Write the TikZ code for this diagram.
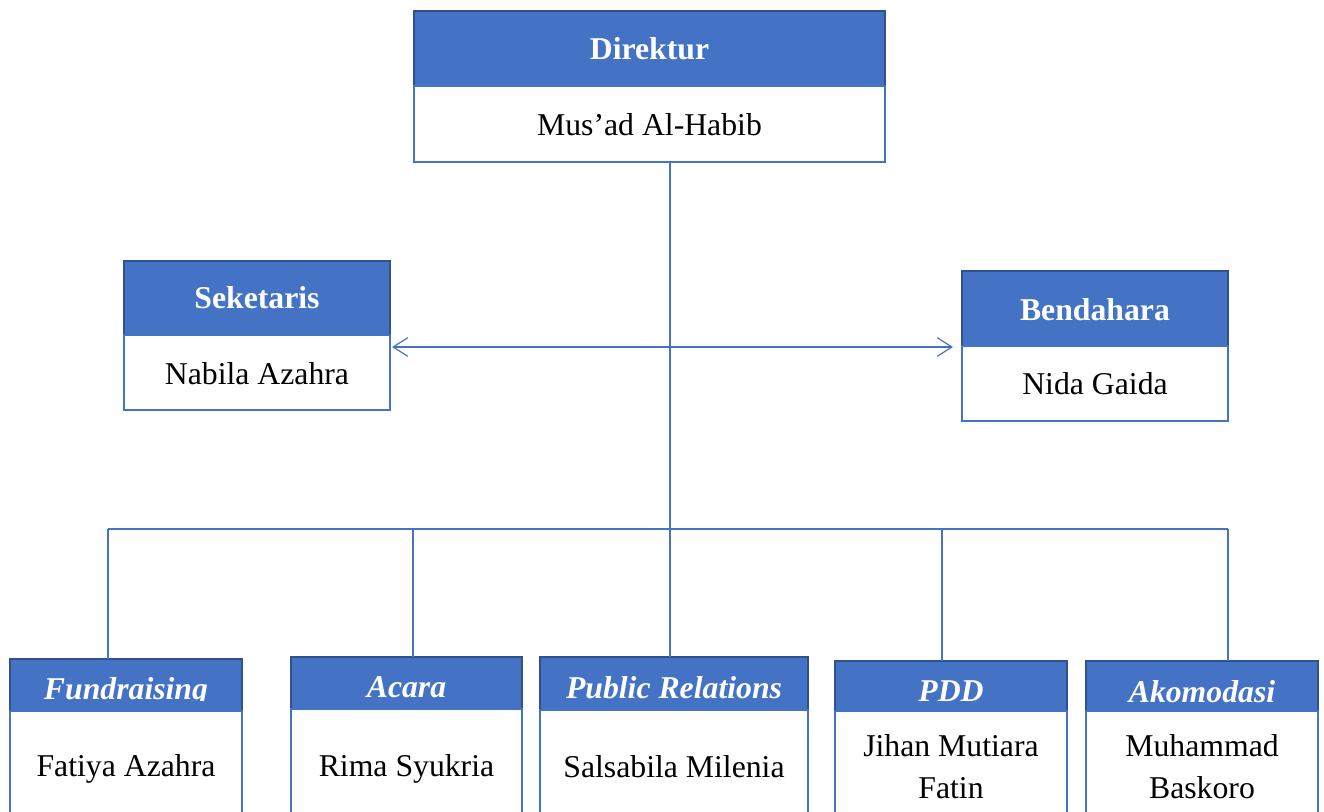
\documentclass[tikz,border=0pt]{standalone}
\usepackage{fontspec}
\setmainfont{Liberation Serif}
\usetikzlibrary{fit,calc,arrows.meta}
\definecolor{hdrblue}{HTML}{4472C4}
\definecolor{hdrline}{HTML}{2F528F}
\begin{document}
\begin{tikzpicture}[x=0.75pt,y=-0.75pt,
  hdr/.style={draw=hdrline,fill=hdrblue,line width=1.5pt,inner sep=0pt,outer sep=0pt},
  bdy/.style={draw=hdrblue,fill=white,line width=1.5pt,inner sep=0pt,outer sep=0pt},
  ttl/.style={text=white,font=\fontsize{23.8}{28}\selectfont\bfseries,anchor=base,inner sep=0pt},
  ittl/.style={text=white,font=\fontsize{23.8}{28}\selectfont\bfseries\itshape,anchor=base,inner sep=0pt},
  nm/.style={font=\fontsize{23.8}{28}\selectfont,anchor=base,inner sep=0pt},
  conn/.style={draw=hdrblue,line width=1.1pt}]
\useasboundingbox (0,0) rectangle (1324,811);

% coordinates for the bus
\coordinate (bus) at (670,529);
\coordinate (cF) at (108,529);
\coordinate (cA) at (413,529);
\coordinate (cP) at (670,529);
\coordinate (cD) at (942,529);
\coordinate (cK) at (1228,529);

% Direktur
\node[hdr,fit={(414,11)(885,86)}] (dirH) {};
\node[bdy,fit={(414,86)(885,162)}] (dirB) {};
\node[ttl] (dirT) at (649.5,59) {Direktur};
\node[nm] (dirN) at (649.5,135) {Mus’ad Al-Habib};

% Seketaris
\node[hdr,fit={(124,261)(390,335)}] (sekH) {};
\node[bdy,fit={(124,335)(390,410)}] (sekB) {};
\node[ttl] (sekT) at (257,308) {Seketaris};
\node[nm] (sekN) at (257,384) {Nabila Azahra};

% Bendahara
\node[hdr,fit={(962,271)(1228,346)}] (benH) {};
\node[bdy,fit={(962,346)(1228,421)}] (benB) {};
\node[ttl] (benT) at (1095,320) {Bendahara};
\node[nm] (benN) at (1095,394) {Nida Gaida};

% connectors
\draw[conn,line width=0.9pt,{Straight Barb[length=11pt,width=14pt]}-{Straight Barb[length=11pt,width=14pt]}]
  ($(sekB.north east)+(2,12)$) -- ($(benB.north west)+(-9,1)$);
\draw[conn] (dirB.south -| bus) -- (bus);
\draw[conn] (cF) -- (cK);

% Fundraising
\node[hdr,fit={(10,659)(242,711)}] (funH) {};
\begin{scope}
\clip (10,659) rectangle (242,700);
\node[ittl] (funT) at (126,699) {Fundraising};
\end{scope}
\node[bdy,fit={(10,711)(242,830)}] (funB) {};
\node[nm] (funN) at (126,776) {Fatiya Azahra};

% Acara
\node[hdr,fit={(291,657)(522,709)}] (acaH) {};
\node[ittl] (acaT) at (406.5,697) {Acara};
\node[bdy,fit={(291,709)(522,830)}] (acaB) {};
\node[nm] (acaN) at (406.5,776) {Rima Syukria};

% Public Relations
\node[hdr,fit={(540,657)(808,710)}] (prH) {};
\node[ittl] (prT) at (674,698) {Public Relations};
\node[bdy,fit={(540,710)(808,830)}] (prB) {};
\node[nm] (prN) at (674,777) {Salsabila Milenia};

% PDD
\node[hdr,fit={(835,661)(1067,711)}] (pddH) {};
\node[ittl] (pddT) at (951,701) {PDD};
\node[bdy,fit={(835,711)(1067,830)}] (pddB) {};
\node[nm] (pddN1) at (951,756) {Jihan Mutiara};
\node[nm] (pddN2) at (951,798) {Fatin};

% Akomodasi
\node[hdr,fit={(1086,661)(1318,711)}] (akoH) {};
\node[ittl] (akoT) at (1202,702) {Akomodasi};
\node[bdy,fit={(1086,711)(1318,830)}] (akoB) {};
\node[nm] (akoN1) at (1202,756) {Muhammad};
\node[nm] (akoN2) at (1202,798) {Baskoro};

% drops
\draw[conn] (cF) -- (cF |- funH.north);
\draw[conn] (cA) -- (cA |- acaH.north);
\draw[conn] (cP) -- (cP |- prH.north);
\draw[conn] (cD) -- (cD |- pddH.north);
\draw[conn] (cK) -- (cK |- akoH.north);
\end{tikzpicture}
\end{document}
